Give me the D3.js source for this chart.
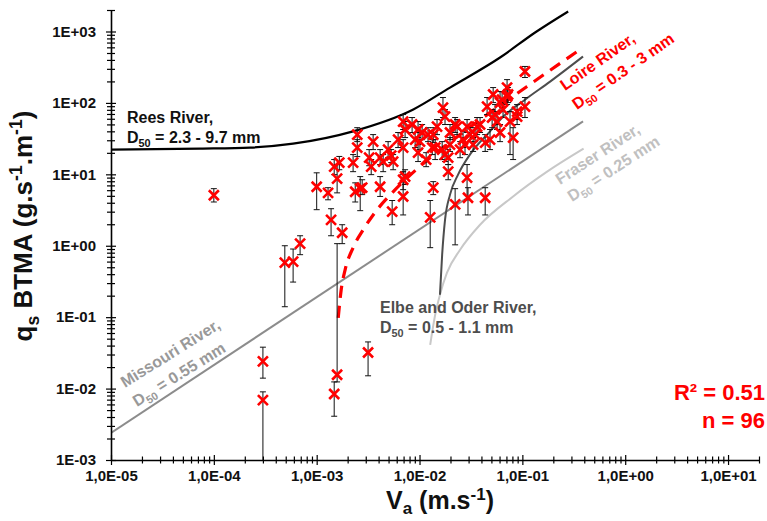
<!DOCTYPE html>
<html>
<head>
<meta charset="utf-8">
<title>qs BTMA vs Va</title>
<script src="https://d3js.org/d3.v7.min.js"></script>
<style>
  body { margin: 0; background: #fff; }
  svg { font-family: "Liberation Sans", Arial, sans-serif; font-weight: bold; }
</style>
</head>
<body>
<svg id="chart" width="767" height="521"></svg>
<script>

// measured points (Va in m/s, qs in g/s/m) with error bar bounds
var va = [1.0e-4, 3.0e-4, 3.0e-4, 4.9e-4, 5.9e-4, 6.9e-4, 1.0e-3, 1.29e-3, 1.38e-3, 1.48e-3,
  1.58e-3, 1.66e-3, 1.77e-3, 1.58e-3, 1.48e-3, 2.26e-3, 2.37e-3, 2.65e-3, 2.48e-3, 2.48e-3,
  3.16e-3, 3.54e-3, 3.24e-3, 3.39e-3, 2.77e-3, 4.14e-3, 4.14e-3, 4.43e-3, 5.30e-3, 5.54e-3,
  5.42e-3, 6.93e-3, 7.24e-3, 6.93e-3, 7.24e-3, 6.93e-3, 6.93e-3, 8.47e-3, 1.01e-2, 9.68e-3,
  1.21e-2, 1.33e-2, 1.48e-2, 1.42e-2, 1.66e-2, 1.69e-2, 1.77e-2, 1.77e-2, 1.98e-2, 1.90e-2,
  1.98e-2, 1.90e-2, 2.32e-2, 2.65e-2, 2.90e-2, 2.77e-2, 2.90e-2, 2.96e-2, 2.22e-2, 1.27e-2,
  1.36e-2, 3.32e-2, 3.63e-2, 4.35e-2, 4.35e-2, 4.54e-2, 4.85e-2, 5.20e-2, 5.43e-2, 6.07e-2,
  6.07e-2, 7.10e-2, 7.26e-2, 7.59e-2, 8.13e-2, 8.89e-2, 0.106, 5.68e-2, 6.35e-2, 0.106,
  1.06e-2, 1.36e-2, 9.68e-3, 7.10e-2, 5.08e-2, 8.89e-2, 2.48e-2, 3.47e-2, 6.19e-3, 9.06e-3,
  2.22e-2, 3.88e-2, 6.49e-2, 4.95e-3, 1.16e-2, 3.10e-2];
var qs = [5.1, 0.024, 0.0069, 0.58, 0.60, 1.07, 6.7, 5.5, 2.3, 12.8,
  8.7, 14.6, 1.52, 0.0156, 0.0084, 14.6, 5.7, 6.3, 36, 23.7,
  0.032, 28.7, 17.1, 12.8, 6.5, 6.7, 17.1, 15.1, 18.3, 15.1,
  3.0, 54.8, 42.4, 23.7, 9.3, 8.4, 4.9, 49.8, 28.7, 42.4,
  36, 23.7, 46.6, 23.7, 22.2, 86, 64.4, 18.9, 38.5, 17.1,
  26.1, 10.9, 46.6, 30.6, 46.6, 26.1, 9.0, 4.7, 3.8, 2.5,
  6.5, 26.1, 46.6, 27.8, 4.7, 88.9, 30.6, 131, 68.7, 38.5,
  101, 164, 131, 54.8, 32.7, 75.7, 88.9, 54.8, 111, 275,
  38.5, 36, 20.1, 123, 62.4, 64.4, 22.2, 36, 30.6, 30.6,
  49.8, 49.8, 80.7, 22.2, 16.1, 36];
var qsLow = [4.1, 0.014, 0.0008, 0.14, 0.31, 0.75, 3.2, 4.4, 1.38, 9.9,
  5.5, 11.6, 1.07, 0.0124, 0.0041, 10.9, 4.1, 3.1, 28.7, 17.7,
  0.0151, 22.2, 13.2, 9.9, 5.2, 4.9, 13.7, 10.9, 14.6, 11.6,
  1.97, 42.4, 32.7, 9.9, 7.2, 6.1, 2.7, 38.5, 22.2, 32.7,
  28.7, 18.9, 36, 16.1, 16.1, 62.4, 49.8, 15.1, 30.6, 13.7,
  20.9, 8.4, 36, 23.7, 38.5, 18.9, 4.4, 2.7, 1.03, 0.94,
  5.2, 20.9, 36, 20.9, 2.7, 68.7, 22.2, 101, 49.8, 28.7,
  75.7, 131, 101, 18.9, 16.1, 58.5, 62.4, 42.4, 86, 227,
  30.6, 27.8, 15.1, 94.8, 45, 49.8, 17.1, 28.7, 23.7, 23.7,
  38.5, 38.5, 62.4, 17.1, 12.8, 28.7];
var qsHigh = [6.3, 0.038, 0.009, 1.0, 0.90, 1.38, 10.5, 6.5, 3.3, 16.1,
  13.7, 17.8, 1.97, 1.07, 0.0124, 18.9, 7.6, 9.3, 45, 30.6,
  0.045, 36, 22.2, 16.1, 8.4, 9.3, 22.2, 18.9, 22.2, 18.9,
  4.3, 68.7, 54.8, 30.6, 11.6, 10.9, 7.9, 62.4, 38.5, 54.8,
  45, 30.6, 58.5, 30.6, 28.7, 119, 80.7, 23.7, 49.8, 22.2,
  32.7, 13.7, 58.5, 40, 58.5, 32.7, 13.7, 6.5, 6.3, 4.3,
  7.9, 32.7, 62.4, 36, 6.5, 119, 42.4, 164, 94.8, 49.8,
  144, 212, 164, 75.7, 45, 94.8, 119, 75.7, 144, 324,
  49.8, 45, 26.1, 154, 80.7, 80.7, 28.7, 45, 38.5, 38.5,
  62.4, 62.4, 101, 28.7, 20.1, 45];

// model curves
var reesVa = [1e-5, 7.4e-5, 2.26e-4, 5.9e-4, 2.26e-3, 8.7e-3, 1.98e-2, 6.07e-2, 0.133, 0.279];
var reesQs = [22.2, 22.9, 23.7, 26.9, 40, 81, 164, 432, 969, 1909];
var loireVa = [1.62e-3, 1.73e-3, 1.89e-3, 2.26e-3, 2.83e-3, 3.87e-3, 5.42e-3, 1.08e-2, 2.48e-2, 0.111, 0.389];
var loireQs = [0.098, 0.24, 0.46, 0.94, 1.67, 3.2, 5.5, 14.1, 36, 170, 597];
var elbeVa = [1.58e-2, 1.66e-2, 1.77e-2, 1.98e-2, 2.37e-2, 3.10e-2, 4.85e-2, 6.49e-2, 0.106, 0.186, 0.389];
var elbeQs = [0.206, 0.75, 2.3, 5.2, 9.9, 19, 40, 64, 111, 199, 447];
var missouriVa = [1e-5, 0.389];
var missouriQs = [0.0024, 55];
var fraserVa = [1.27e-2, 1.42e-2, 1.58e-2, 1.85e-2, 2.48e-2, 3.88e-2, 8.13e-2, 0.174, 0.394];
var fraserQs = [0.041, 0.108, 0.206, 0.42, 0.88, 1.97, 4.9, 10.9, 22.9];

var xTickLabels = ["1,0E-05", "1,0E-04", "1,0E-03", "1,0E-02", "1,0E-01", "1,0E+00", "1,0E+01"];
var yTickLabels = ["1E-03", "1E-02", "1E-01", "1E+00", "1E+01", "1E+02", "1E+03"];

var svg = d3.select("#chart");

var x = d3.scaleLog().domain([1e-5, 20]).range([111, 759]);
var y = d3.scaleLog().domain([1e-3, 2000]).range([460, 10]);

function isMajor(v) {
  var l = Math.log10(v);
  return Math.abs(l - Math.round(l)) < 1e-9;
}

// clip for the plot area
svg.append("clipPath").attr("id", "plot")
  .append("rect").attr("x", 111).attr("y", 10).attr("width", 650).attr("height", 450);

var plot = svg.append("g").attr("clip-path", "url(#plot)");

function curve(xs, ys, color, width, dash) {
  var pts = xs.map(function (d, i) { return [x(d), y(ys[i])]; });
  plot.append("path")
    .attr("d", d3.line().curve(d3.curveMonotoneX)(pts))
    .attr("fill", "none")
    .attr("stroke", color)
    .attr("stroke-width", width)
    .attr("stroke-dasharray", dash || null);
}

curve(fraserVa, fraserQs, "#c8c8c8", 2);
curve(missouriVa, missouriQs, "#8c8c8c", 2);
curve(elbeVa, elbeQs, "#4d4d4d", 2);
curve(reesVa, reesQs, "#000", 2.2);
curve(loireVa, loireQs, "#ff0000", 3.2, "12,8");

// error bars
var bars = plot.append("g").attr("stroke", "#111").attr("stroke-width", 1);
va.forEach(function (v, i) {
  var cx = x(v);
  bars.append("line").attr("x1", cx).attr("x2", cx)
    .attr("y1", y(qsHigh[i])).attr("y2", y(qsLow[i]));
  [qsHigh[i], qsLow[i]].forEach(function (b) {
    bars.append("line").attr("x1", cx - 3).attr("x2", cx + 3)
      .attr("y1", y(b)).attr("y2", y(b));
  });
});

// markers
var marks = plot.append("g").attr("stroke", "#ff0000").attr("stroke-width", 2.6);
va.forEach(function (v, i) {
  var cx = x(v), cy = y(qs[i]), s = 5;
  marks.append("path")
    .attr("d", "M" + (cx - s) + "," + (cy - s) + "L" + (cx + s) + "," + (cy + s) +
               "M" + (cx - s) + "," + (cy + s) + "L" + (cx + s) + "," + (cy - s));
});

// axes
var xTicks = x.ticks();
var yTicks = y.ticks();

var xAxis = svg.append("g")
  .attr("transform", "translate(0,460)")
  .call(d3.axisBottom(x).tickValues(xTicks).tickSizeOuter(0)
    .tickFormat(function (d) {
      return isMajor(d) ? xTickLabels[Math.round(Math.log10(d)) + 5] : "";
    }));
xAxis.select(".domain").attr("stroke-width", 1.6);
xAxis.selectAll(".tick line")
  .attr("y1", function (d) { return isMajor(d) ? -5 : -3.5; })
  .attr("y2", function (d) { return isMajor(d) ? 5 : 3.5; })
  .attr("stroke-width", 1.2);
xAxis.selectAll(".tick text")
  .attr("y", 10).attr("dy", "0.71em")
  .attr("font-size", 15).attr("font-family", "Liberation Sans, Arial, sans-serif")
  .attr("font-weight", "bold").attr("fill", "#111");

var yAxis = svg.append("g")
  .attr("transform", "translate(111,0)")
  .call(d3.axisLeft(y).tickValues(yTicks).tickSizeOuter(0)
    .tickFormat(function (d) {
      return isMajor(d) ? yTickLabels[Math.round(Math.log10(d)) + 3] : "";
    }));
yAxis.select(".domain").attr("stroke-width", 1.6);
yAxis.selectAll(".tick line")
  .attr("x1", function (d) { return isMajor(d) ? -5 : -4; })
  .attr("x2", function (d) { return isMajor(d) ? 5 : 4; })
  .attr("stroke-width", 1.2);
yAxis.selectAll(".tick text")
  .attr("x", -15)
  .attr("font-size", 15).attr("font-family", "Liberation Sans, Arial, sans-serif")
  .attr("font-weight", "bold").attr("fill", "#111");

// rich text helper: parts = [[text, "n"|"sub"|"sup"], ...]
function richText(px, py, angle, parts, color, size, anchor, subShift) {
  var t = svg.append("text")
    .attr("transform", "translate(" + px + "," + py + ") rotate(" + angle + ")")
    .attr("fill", color)
    .attr("font-size", size)
    .attr("text-anchor", anchor || "start");
  var shift = 0;
  parts.forEach(function (p) {
    var target = p[1] === "sub" ? size * (subShift || 0.25) : p[1] === "sup" ? -size * 0.38 : 0;
    t.append("tspan")
      .attr("dy", target - shift)
      .attr("font-size", p[1] === "n" ? size : size * 0.68)
      .text(p[0]);
    shift = target;
  });
  return t;
}

// axis titles
richText(440, 509, 0, [["V", "n"], ["a", "sub"], [" (m.s", "n"], ["-1", "sup"], [")", "n"]], "#111", 25, "middle", 0.2);
richText(32, 226, -90, [["q", "n"], ["s", "sub"], [" BTMA (g.s", "n"], ["-1", "sup"], [".m", "n"], ["-1", "sup"], [")", "n"]], "#111", 26, "middle");

// curve labels
richText(127, 123, 0, [["Rees River,", "n"]], "#111", 16);
richText(127, 143, 0, [["D", "n"], ["50", "sub"], [" = 2.3 - 9.7 mm", "n"]], "#111", 16);

richText(565, 91, -35, [["Loire River,", "n"]], "#ff0000", 16);
richText(577, 110, -35, [["D", "n"], ["50", "sub"], [" = 0.3 - 3 mm", "n"]], "#ff0000", 16);

richText(560, 185, -33, [["Fraser River,", "n"]], "#c0c0c0", 16);
richText(572, 202, -33, [["D", "n"], ["50", "sub"], [" = 0.25 mm", "n"]], "#c0c0c0", 16);

richText(125, 388, -32, [["Missouri River,", "n"]], "#999999", 16);
richText(137, 407, -32, [["D", "n"], ["50", "sub"], [" = 0.55 mm", "n"]], "#999999", 16);

richText(380, 313, 0, [["Elbe and Oder River,", "n"]], "#4d4d4d", 16);
richText(380, 333, 0, [["D", "n"], ["50", "sub"], [" = 0.5 - 1.1 mm", "n"]], "#4d4d4d", 16);

richText(765, 400, 0, [["R² = 0.51", "n"]], "#ff0000", 22, "end");
richText(765, 428, 0, [["n = 96", "n"]], "#ff0000", 22, "end");

</script>
</body>
</html>
